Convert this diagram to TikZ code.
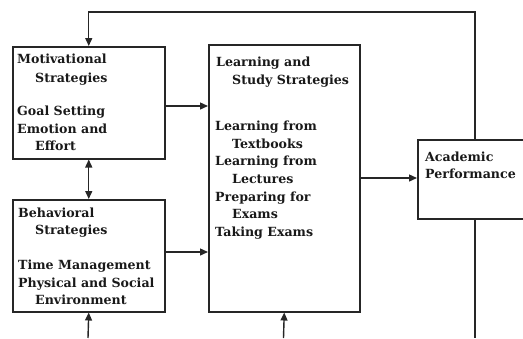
\documentclass[tikz,border=0pt]{standalone}
\usepackage{fontspec}
\setmainfont{DejaVu Serif}
\usetikzlibrary{arrows.meta}
\begin{document}
\begin{tikzpicture}[x=1pt,y=-1pt,
  box/.style={draw=black!85, line width=1.5pt, rectangle, inner sep=0pt, anchor=north west},
  txt/.style={anchor=base west, inner sep=0pt, text=black!90, font=\fontsize{12.6}{15}\selectfont\bfseries},
  link/.style={draw=black!85, line width=1.4pt},
  arr/.style={link, -{Triangle[length=8pt,width=7pt]}},
  darr/.style={link, {Triangle[length=8pt,width=7pt]}-{Triangle[length=8pt,width=7pt]}}]
\clip (0,0) rectangle (523,338);
\useasboundingbox (0,0) rectangle (523,338);

% boxes
\node[box, minimum width=152pt, minimum height=112pt] (motiv) at (12,46) {};
\node[box, minimum width=152pt, minimum height=112pt] (behav) at (12,199) {};
\node[box, minimum width=151pt, minimum height=267pt] (learn) at (208,44) {};
\node[box, minimum width=130pt, minimum height=79pt] (acad) at (417,139) {};

% motivational strategies
\node[txt] (m1) at (17,63) {Motivational};
\node[txt] (m2) at (35,82) {Strategies};
\node[txt] (m3) at (17,115) {Goal Setting};
\node[txt] (m4) at (17,133) {Emotion and};
\node[txt] (m5) at (35,150.5) {Effort};

% behavioral strategies
\node[txt] (b1) at (18,217) {Behavioral};
\node[txt] (b2) at (35,234) {Strategies};
\node[txt] (b3) at (18,269) {Time Management};
\node[txt] (b4) at (18,287) {Physical and Social};
\node[txt] (b5) at (35,304) {Environment};

% learning and study strategies
\node[txt] (l1) at (216,66.5) {Learning and};
\node[txt] (l2) at (232,84) {Study Strategies};
\node[txt] (l3) at (215,130) {Learning from};
\node[txt] (l4) at (232,148) {Textbooks};
\node[txt] (l5) at (215,165.5) {Learning from};
\node[txt] (l6) at (232,183) {Lectures};
\node[txt] (l7) at (215,201) {Preparing for};
\node[txt] (l8) at (232,218.5) {Exams};
\node[txt] (l9) at (215,236) {Taking Exams};

% academic performance
\node[txt] (a1) at (425,161) {Academic};
\node[txt] (a2) at (425,178) {Performance};

% connectors
\coordinate (fb) at (475,12);
\coordinate (inB) at (88,338);
\coordinate (inL) at (283.5,338);
\coordinate (outA) at (475,338);

\draw[arr] (motiv.east |- 0,106) -- (learn.west |- 0,106);
\draw[arr] (behav.east |- 0,252) -- (learn.west |- 0,252);
\draw[arr] (learn.east |- 0,178) -- (acad.west |- 0,178);
\draw[darr] (motiv.south) -- (behav.north);
\draw[arr] (acad.north -| fb) -- (fb) -| (motiv.north);
\draw[arr] (inB) -- (behav.south);
\draw[arr] (inL) -- (learn.south);
\draw[link] (acad.south -| outA) -- (outA);
\end{tikzpicture}
\end{document}
